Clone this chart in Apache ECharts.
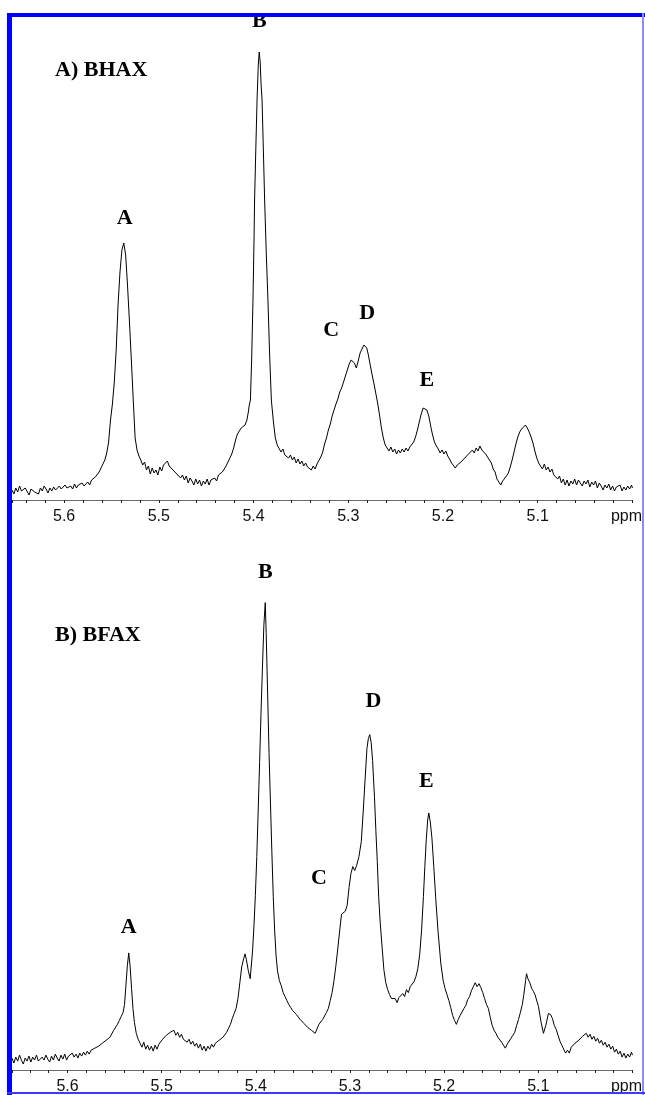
<!DOCTYPE html>
<html>
<head>
<meta charset="utf-8">
<script src="https://cdn.jsdelivr.net/npm/echarts@6.0.0/dist/echarts.min.js"></script>
<style>
html, body { margin: 0; padding: 0; background: #fff; }
#spectra { width: 645px; height: 1095px; }
</style>
</head>
<body>
<div id="spectra"></div>
<script>
// chemical shift (ppm) and signal height
var shiftA = [
    5.655, 5.653, 5.651, 5.649, 5.647, 5.645, 5.643, 5.641, 5.639, 5.637,
    5.635, 5.633, 5.631, 5.629, 5.627, 5.625, 5.623, 5.621, 5.619, 5.617,
    5.615, 5.613, 5.611, 5.609, 5.607, 5.605, 5.603, 5.601, 5.599, 5.597,
    5.595, 5.593, 5.591, 5.589, 5.587, 5.585, 5.583, 5.581, 5.579,
    5.577, 5.575, 5.573, 5.571, 5.569, 5.567, 5.565, 5.563, 5.561, 5.559,
    5.557, 5.555, 5.553, 5.551, 5.549, 5.547, 5.545, 5.543, 5.541, 5.539,
    5.537, 5.535, 5.533, 5.531, 5.529, 5.527, 5.525, 5.523, 5.521,
    5.519, 5.517, 5.515, 5.513, 5.511, 5.509, 5.507, 5.505, 5.503, 5.501,
    5.499, 5.497, 5.495, 5.493, 5.491, 5.489, 5.487, 5.485, 5.483, 5.481,
    5.479, 5.477, 5.475, 5.473, 5.471, 5.469, 5.467, 5.465, 5.463, 5.461,
    5.459, 5.457, 5.455, 5.453, 5.451, 5.449, 5.447, 5.445, 5.443, 5.441,
    5.439, 5.437, 5.435, 5.433, 5.431,
    5.429, 5.427, 5.425, 5.423, 5.421, 5.419, 5.417, 5.415, 5.413, 5.411,
    5.409, 5.407, 5.4055, 5.4045, 5.4033, 5.402, 5.4006, 5.3995, 5.3989, 5.3975,
    5.3963, 5.395, 5.394, 5.393, 5.392, 5.391, 5.3895, 5.3883, 5.3865, 5.3848,
    5.383, 5.3812, 5.379, 5.377, 5.375,
    5.373, 5.371, 5.369, 5.367, 5.365, 5.363, 5.361, 5.359, 5.357, 5.355,
    5.353, 5.351, 5.349, 5.347, 5.345, 5.343, 5.341, 5.339, 5.337, 5.335,
    5.333,
    5.331, 5.329, 5.327, 5.325, 5.323, 5.321, 5.319, 5.317, 5.315, 5.313,
    5.311, 5.309, 5.307, 5.305, 5.303, 5.301, 5.299, 5.297, 5.2955, 5.2935,
    5.2915, 5.2895, 5.2875, 5.2855, 5.2835, 5.282, 5.2805, 5.279, 5.277, 5.275,
    5.273, 5.271, 5.269, 5.267, 5.265, 5.263, 5.261,
    5.259, 5.257, 5.255, 5.253, 5.251, 5.249, 5.247, 5.245, 5.243, 5.241,
    5.239, 5.237, 5.235, 5.233,
    5.231, 5.229, 5.227, 5.225, 5.223, 5.221, 5.219, 5.217, 5.215, 5.213,
    5.211, 5.209, 5.207,
    5.205, 5.203, 5.201, 5.199, 5.197, 5.195, 5.193, 5.191, 5.189, 5.187,
    5.185, 5.183, 5.181, 5.179, 5.177, 5.175, 5.173, 5.171, 5.169, 5.167,
    5.165, 5.163, 5.161, 5.159, 5.157, 5.155, 5.153, 5.151, 5.149, 5.147,
    5.145, 5.143, 5.141, 5.139, 5.137, 5.135, 5.133, 5.131,
    5.129, 5.127, 5.125, 5.123, 5.121, 5.119, 5.117, 5.115, 5.113, 5.111,
    5.109, 5.107, 5.105, 5.103, 5.101, 5.099,
    5.097, 5.095, 5.093, 5.091, 5.089, 5.087, 5.085, 5.083, 5.081, 5.079,
    5.077, 5.075, 5.073, 5.071, 5.069, 5.067, 5.065, 5.063, 5.061, 5.059,
    5.057, 5.055, 5.053, 5.051, 5.049, 5.047, 5.045, 5.043, 5.041, 5.039,
    5.037, 5.035, 5.033, 5.031, 5.029, 5.027, 5.025, 5.023, 5.021, 5.019,
    5.017, 5.015, 5.013, 5.011, 5.009, 5.007, 5.005, 5.003, 5.001, 5.000
];
var bhax = [
    10, 6, 12, 8, 14, 9, 7, 12, 10, 5,
    11, 13, 8, 10, 6, 12, 9, 14, 11, 7,
    12, 9, 13, 10, 8, 14, 11, 9, 15, 12,
    10, 14, 11, 16, 12, 15, 13, 17, 14,
    16, 18, 15, 20, 19, 23, 22, 28, 30, 36,
    40, 47, 58, 80, 96, 118, 150, 196, 228, 250,
    257, 245, 214, 178, 140, 100, 62, 50, 44,
    40, 35, 38, 30, 34, 26, 32, 27, 30, 25,
    33, 29, 35, 33, 39, 34, 36, 30, 32, 26,
    28, 22, 25, 20, 24, 17, 22, 19, 15, 21,
    16, 20, 14, 19, 16, 21, 15, 20, 18, 22,
    19, 25, 23, 28, 30,
    34, 36, 42, 46, 52, 60, 66, 68, 72, 70,
    75, 80, 88, 95, 100, 140, 200, 260, 300, 355,
    400, 435, 448, 438, 415, 400, 345, 300, 245, 200,
    145, 100, 78, 62, 55,
    53, 48, 51, 45, 47, 42, 45, 40, 43, 37,
    41, 36, 39, 34, 37, 33, 35, 30, 34, 31,
    36,
    38, 43, 48, 56, 62, 70, 76, 84, 90, 96,
    101, 108, 112, 118, 124, 130, 136, 140, 141, 137,
    132, 139, 147, 151, 155, 157, 152, 146, 136, 126,
    117, 107, 97, 85, 72, 62, 55,
    52, 49, 53, 48, 51, 46, 50, 47, 51, 48,
    52, 49, 53, 55,
    58, 63, 70, 78, 86, 92, 94, 90, 84, 74,
    65, 58, 54,
    51, 47, 50, 46, 49, 44, 41, 37, 35, 32,
    35, 34, 38, 37, 42, 41, 46, 45, 50, 47,
    52, 49, 54, 50, 51, 46, 46, 40, 37, 31,
    28, 21, 20, 15, 19, 17, 24, 27,
    33, 40, 48, 56, 63, 68, 71, 73, 75, 72,
    68, 63, 57, 49, 42, 37,
    35, 31, 36, 30, 33, 28, 31, 25, 27, 21,
    24, 17, 21, 15, 20, 14, 19, 16, 21, 15,
    20, 17, 14, 19, 16, 20, 13, 18, 15, 19,
    12, 17, 14, 10, 15, 12, 16, 10, 14, 9,
    13, 11, 15, 9, 13, 10, 14, 11, 15, 12
];

var shiftB = [
    5.659, 5.657, 5.655, 5.653, 5.651, 5.649, 5.647, 5.645, 5.643, 5.641,
    5.639, 5.637, 5.635, 5.633, 5.631, 5.629, 5.627, 5.625, 5.623, 5.621,
    5.619, 5.617, 5.615, 5.613, 5.611, 5.609, 5.607, 5.605, 5.603, 5.601,
    5.599, 5.597, 5.595, 5.593, 5.591, 5.589, 5.587, 5.585, 5.583, 5.581,
    5.579, 5.577, 5.575, 5.573, 5.571, 5.569, 5.567, 5.565, 5.563, 5.561,
    5.559, 5.557, 5.555, 5.553, 5.551, 5.549, 5.547, 5.545, 5.543, 5.541,
    5.5395, 5.538, 5.5365, 5.535, 5.5335, 5.532, 5.5305, 5.529, 5.527, 5.525,
    5.523, 5.521, 5.519, 5.517, 5.515, 5.513, 5.511, 5.509, 5.507, 5.505,
    5.503, 5.501, 5.499, 5.497, 5.495, 5.493, 5.491, 5.489, 5.487, 5.485,
    5.483, 5.481, 5.479, 5.477, 5.475, 5.473, 5.471, 5.469, 5.467, 5.465,
    5.463, 5.461, 5.459, 5.457, 5.455, 5.453, 5.451, 5.449, 5.447, 5.445,
    5.443, 5.441, 5.439, 5.437, 5.435, 5.433,
    5.431, 5.429, 5.427, 5.425, 5.423, 5.421, 5.419, 5.417, 5.415, 5.413,
    5.4115, 5.410, 5.408, 5.406, 5.405, 5.4035, 5.402, 5.4005, 5.399, 5.3975,
    5.396, 5.3945, 5.393, 5.3915, 5.390, 5.389, 5.3875, 5.386, 5.3845, 5.383,
    5.3815, 5.380, 5.3785, 5.377, 5.375,
    5.373, 5.371, 5.369, 5.367, 5.365, 5.363, 5.361, 5.359, 5.357, 5.355,
    5.353, 5.351, 5.349, 5.347, 5.345, 5.343, 5.341, 5.339, 5.337, 5.335,
    5.333, 5.331, 5.329, 5.327, 5.325, 5.323, 5.321, 5.319, 5.317, 5.315,
    5.313, 5.311, 5.309, 5.307, 5.305, 5.303, 5.301, 5.299, 5.297, 5.295,
    5.293, 5.2905, 5.288, 5.286, 5.284, 5.282, 5.2805, 5.279, 5.2775, 5.276,
    5.274, 5.2725, 5.271, 5.2695, 5.268, 5.266, 5.264, 5.262,
    5.260, 5.258, 5.256, 5.254, 5.252, 5.250, 5.248, 5.246, 5.244, 5.242,
    5.240, 5.238, 5.236, 5.234, 5.232,
    5.230, 5.228, 5.226, 5.224, 5.222, 5.2205, 5.219, 5.2175, 5.2163, 5.2147,
    5.213, 5.211, 5.209, 5.2065, 5.2035, 5.201, 5.199, 5.197, 5.195, 5.193,
    5.191,
    5.189, 5.187, 5.185, 5.183, 5.181, 5.179, 5.177, 5.175, 5.173, 5.171,
    5.169, 5.167, 5.165, 5.163, 5.161, 5.159, 5.157, 5.155, 5.153, 5.151,
    5.149, 5.147, 5.145, 5.143, 5.141, 5.139, 5.137, 5.135, 5.133, 5.131,
    5.129, 5.127, 5.125, 5.123, 5.121, 5.119, 5.117, 5.1155, 5.1135, 5.1125,
    5.111, 5.109, 5.107, 5.105, 5.1035, 5.1015, 5.0998, 5.097, 5.0945, 5.092,
    5.0892, 5.087, 5.085, 5.083, 5.081, 5.079, 5.077, 5.075, 5.073, 5.071,
    5.069, 5.067, 5.065, 5.063, 5.061, 5.059, 5.057, 5.055, 5.053, 5.051,
    5.049, 5.047, 5.045, 5.043, 5.041, 5.039, 5.037, 5.035, 5.033, 5.031,
    5.029, 5.027, 5.025, 5.023, 5.021, 5.019, 5.017, 5.015, 5.013, 5.011,
    5.009, 5.007, 5.005, 5.003, 5.001, 5.000
];
var bfax = [
    12, 7, 13, 9, 15, 10, 6, 12, 9, 14,
    8, 13, 10, 15, 9, 7, 13, 10, 15, 11,
    8, 14, 10, 16, 12, 9, 15, 11, 16, 10,
    14, 12, 17, 13, 16, 12, 17, 14, 18, 15,
    19, 16, 20, 18, 22, 20, 24, 23, 27, 26,
    30, 29, 33, 35, 40, 41, 46, 50, 54, 58,
    66, 85, 105, 118, 104, 82, 62, 48, 37, 31,
    27, 23, 28, 21, 25, 20, 24, 19, 25, 21,
    26, 24, 31, 30, 35, 33, 38, 36, 40, 35,
    38, 33, 36, 31, 33, 28, 31, 26, 29, 24,
    27, 22, 26, 20, 24, 19, 24, 21, 26, 23,
    27, 25, 30, 29, 33, 35,
    38, 42, 46, 52, 57, 62, 72, 88, 104, 112,
    117, 111, 100, 92, 91, 120, 145, 176, 215, 262,
    310, 360, 405, 448, 471, 440, 380, 320, 270, 220,
    175, 140, 115, 100, 90,
    85, 78, 74, 70, 66, 63, 60, 62, 56, 57,
    51, 53, 47, 49, 43, 45, 40, 42, 37, 35,
    46, 47, 51, 53, 58, 62, 70, 78, 90, 105,
    122, 140, 157, 156, 160, 166, 184, 198, 205, 201,
    206, 215, 230, 260, 292, 324, 334, 338, 330, 312,
    275, 241, 210, 174, 150, 125, 101, 88,
    81, 76, 72, 70, 72, 68, 73, 71, 77, 74,
    81, 78, 84, 82, 89,
    94, 102, 116, 140, 175, 205, 232, 252, 259, 250,
    234, 205, 174, 140, 107, 90, 82, 76, 70, 63,
    55,
    50, 46, 51, 55, 57, 62, 65, 71, 74, 80,
    82, 88, 84, 87, 83, 78, 72, 66, 62, 53,
    45, 40, 37, 33, 31, 28, 26, 22, 26, 27,
    32, 35, 38, 45, 51, 58, 66, 75, 90, 97,
    92, 88, 82, 79, 76, 74, 64, 48, 37, 45,
    57, 56, 52, 45, 41, 35, 29, 25, 21, 17,
    20, 17, 23, 21, 27, 25, 30, 28, 34, 32,
    37, 33, 36, 31, 34, 29, 32, 27, 30, 25,
    28, 23, 26, 21, 24, 18, 21, 16, 19, 13,
    17, 12, 16, 13, 18, 15
];

var peakNames = ['A', 'B', 'C', 'D', 'E'];
var peakShiftA = [5.536, 5.394, 5.318, 5.280, 5.217];
var peakHeightA = [282, 479, 170, 187, 120];
var peakShiftB = [5.535, 5.390, 5.333, 5.275, 5.219];
var peakHeightB = [144, 502, 193, 372, 291];
var panelTitles = ['A) BHAX', 'B) BFAX'];

function zip(xs, ys) {
    var out = [];
    for (var i = 0; i < xs.length; i++) out.push([xs[i], ys[i]]);
    return out;
}

function peakPoints(xs, ys) {
    return peakNames.map(function(name, i) {
        return { name: name, value: [xs[i], ys[i]] };
    });
}

function ppmLabel(value) {
    var tenth = Math.round(value * 10);
    if (Math.abs(value * 10 - tenth) > 1e-6) return '';
    if (tenth === 50) return '{unit|ppm}';
    if (tenth > 56) return '';
    return (tenth / 10).toFixed(1);
}

function shiftAxis(gridIndex, maxShift) {
    return {
        type: 'value',
        gridIndex: gridIndex,
        inverse: true,
        min: 5.0,
        max: maxShift,
        interval: 0.02,
        axisLine: { lineStyle: { color: '#6b6b6b', width: 1 } },
        axisTick: { show: true, length: 3, lineStyle: { color: '#222', width: 1 } },
        splitLine: { show: false },
        axisLabel: {
            formatter: ppmLabel,
            margin: 9,
            fontFamily: 'Liberation Sans, Arial, sans-serif',
            fontSize: 16,
            color: '#111',
            rich: {
                unit: {
                    fontFamily: 'Liberation Sans, Arial, sans-serif',
                    fontSize: 16,
                    color: '#111',
                    padding: [0, 12, 0, 0]
                }
            }
        }
    };
}

function heightAxis(gridIndex, maxHeight) {
    return { type: 'value', gridIndex: gridIndex, min: 0, max: maxHeight, show: false };
}

function traceSeries(idx, data) {
    return {
        type: 'line',
        xAxisIndex: idx,
        yAxisIndex: idx,
        data: data,
        showSymbol: false,
        silent: true,
        lineStyle: { color: '#000', width: 1 }
    };
}

function labelSeries(idx, data) {
    return {
        type: 'scatter',
        xAxisIndex: idx,
        yAxisIndex: idx,
        data: data,
        symbolSize: 0.1,
        silent: true,
        itemStyle: { color: '#000' },
        label: {
            show: true,
            position: 'inside',
            formatter: '{b}',
            fontFamily: 'Liberation Serif, Times New Roman, serif',
            fontWeight: 'bold',
            fontSize: 22,
            color: '#000',
            opacity: 1,
            textBorderWidth: 0
        }
    };
}

function frameRect(x, y, w, h, fill) {
    return { type: 'rect', z: 100, silent: true, shape: { x: x, y: y, width: w, height: h }, style: { fill: fill } };
}

var titleFont = { fontFamily: 'Liberation Serif, Times New Roman, serif', fontWeight: 'bold', fontSize: 22, color: '#000' };

var chart = echarts.init(document.getElementById('spectra'), null, { renderer: 'canvas' });
chart.setOption({
    animation: false,
    backgroundColor: '#fff',
    title: [
        { text: panelTitles[0], left: 55, top: 59, padding: 0, textStyle: titleFont },
        { text: panelTitles[1], left: 55, top: 624, padding: 0, textStyle: titleFont }
    ],
    grid: [
        { left: 12, right: 10, top: 0, height: 500 },
        { left: 12, right: 10, top: 554, height: 520 }
    ],
    xAxis: [shiftAxis(0, 5.655), shiftAxis(1, 5.659)],
    yAxis: [heightAxis(0, 500), heightAxis(1, 520)],
    series: [
        traceSeries(0, zip(shiftA, bhax)),
        traceSeries(1, zip(shiftB, bfax)),
        labelSeries(0, peakPoints(peakShiftA, peakHeightA)),
        labelSeries(1, peakPoints(peakShiftB, peakHeightB))
    ],
    graphic: [
        frameRect(7, 13, 638, 4, '#0000ff'),
        frameRect(7, 13, 5, 1082, '#0000ff'),
        frameRect(642, 13, 2, 1082, '#8c8cff'),
        frameRect(7, 1092, 638, 2, '#3b3bff')
    ]
});
</script>
</body>
</html>
